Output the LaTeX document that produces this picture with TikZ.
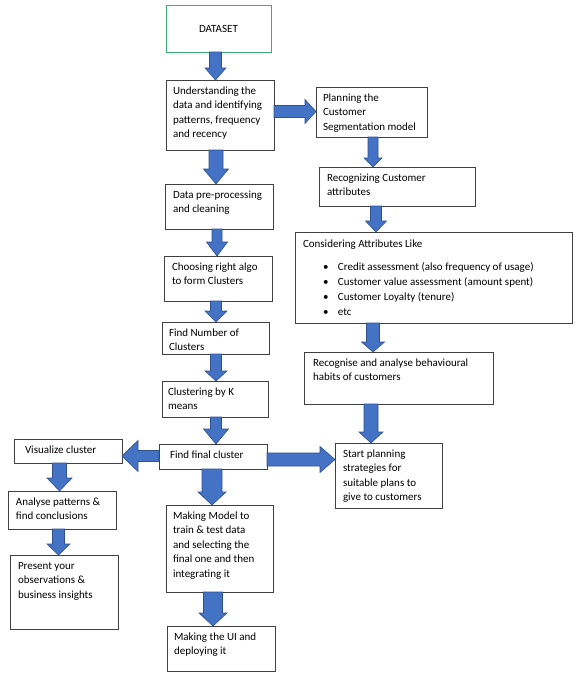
\documentclass[tikz,border=0pt]{standalone}
\usepackage{fontspec}
\setmainfont{Carlito}
\usetikzlibrary{calc}
\definecolor{arrowblue}{HTML}{4472C4}
\definecolor{arrowedge}{HTML}{2F528F}
\definecolor{boxgreen}{HTML}{3DAF73}
\definecolor{boxedge}{HTML}{404040}
\tikzset{
  box/.style={draw=boxedge, line width=0.8pt, fill=white, anchor=north west, inner sep=0pt, outer sep=0pt},
  greenbox/.style={box, draw=boxgreen, line width=1pt},
  blk/.style={fill=arrowblue, draw=arrowedge, line width=0.6pt, line join=miter}
}
% text inside a box: width, height, left pad, text
\newcommand{\boxtxt}[4]{\begin{minipage}[c][#2pt][t]{#1pt}\raggedright\leftskip=#3pt\relax\baselineskip=14.6pt\fontsize{11pt}{14.6pt}\selectfont\rule{0pt}{14pt}#4\end{minipage}}
% down arrow: x, from, to, shaft half, head half, head length
\newcommand{\darr}[6]{\draw[blk] let \p1=(#2.south), \p2=(#3.north) in
  (#1pt-#4pt,\y1) -- (#1pt+#4pt,\y1) -- (#1pt+#4pt,\y2+#6pt) -- (#1pt+#5pt,\y2+#6pt)
  -- (#1pt,\y2) -- (#1pt-#5pt,\y2+#6pt) -- (#1pt-#4pt,\y2+#6pt) -- cycle;}
% right arrow: y, from, to, shaft half, head half, head length
\newcommand{\rarr}[6]{\draw[blk] let \p1=(#2.east), \p2=(#3.west) in
  (\x1,-#1pt+#4pt) -- (\x2-#6pt,-#1pt+#4pt) -- (\x2-#6pt,-#1pt+#5pt) -- (\x2,-#1pt)
  -- (\x2-#6pt,-#1pt-#5pt) -- (\x2-#6pt,-#1pt-#4pt) -- (\x1,-#1pt-#4pt) -- cycle;}
% left arrow
\newcommand{\larr}[6]{\draw[blk] let \p1=(#2.west), \p2=(#3.east) in
  (\x1,-#1pt+#4pt) -- (\x2+#6pt,-#1pt+#4pt) -- (\x2+#6pt,-#1pt+#5pt) -- (\x2,-#1pt)
  -- (\x2+#6pt,-#1pt-#5pt) -- (\x2+#6pt,-#1pt-#4pt) -- (\x1,-#1pt-#4pt) -- cycle;}
\begin{document}
\begin{tikzpicture}[x=1pt,y=-1pt]
\useasboundingbox[fill=white] (0,0) rectangle (586,689);

\node[greenbox] (dataset) at (166,5) {\begin{minipage}[c][47pt][c]{105pt}\centering\fontsize{11pt}{14.6pt}\selectfont DATASET\end{minipage}};
\node[box] (underst) at (166,80) {\boxtxt{108}{70}{7}{Understanding the\\ data and identifying\\ patterns, frequency\\ and recency}};
\node[box] (planning) at (316,87) {\boxtxt{111}{50}{7}{Planning the\\ Customer\\ Segmentation model}};
\node[box] (data) at (165,184) {\boxtxt{108}{45}{8}{Data pre-processing\\ and cleaning}};
\node[box] (choosing) at (164,256) {\boxtxt{108}{45}{8}{Choosing right algo\\ to form Clusters}};
\node[box] (findnum) at (162,322) {\boxtxt{107}{32}{7}{Find Number of\\ Clusters}};
\node[box] (kmeans) at (162,381) {\boxtxt{106}{36}{6}{Clustering by K\\ means}};
\node[box] (findfinal) at (159,444) {\boxtxt{108}{25}{11}{Find final cluster}};
\node[box] (recog) at (319,167) {\boxtxt{156}{39}{8}{Recognizing Customer\\ attributes}};
\node[box] (consider) at (295,232) {\begin{minipage}[c][91pt][t]{277pt}\raggedright\fontsize{11pt}{15pt}\selectfont
  \leftskip=8pt\rule{0pt}{15pt}Considering Attributes Like\par\vspace{8pt}
  \leftskip=28pt
  \makebox[15pt][l]{\textbullet}Credit assessment (also frequency of usage)\\
  \makebox[15pt][l]{\textbullet}Customer value assessment (amount spent)\\
  \makebox[15pt][l]{\textbullet}Customer Loyalty (tenure)\\
  \makebox[15pt][l]{\textbullet}etc\end{minipage}};
\node[box] (habits) at (304,352) {\boxtxt{189}{52}{9}{Recognise and analyse behavioural\\ habits of customers}};
\node[box] (startplan) at (335,443) {\boxtxt{107}{65}{8}{Start planning\\ strategies for\\ suitable plans to\\ give to customers}};
\node[box] (visual) at (14,439) {\boxtxt{108}{24}{11}{Visualize cluster}};
\node[box] (analyse) at (8,491) {\boxtxt{108}{38}{8}{Analyse patterns \&\\ find conclusions}};
\node[box] (present) at (10,555) {\boxtxt{108}{74}{8}{Present your\\ observations \&\\ business insights}};
\node[box] (model) at (166,505) {\boxtxt{107}{87}{7}{Making Model to\\ train \& test data\\ and selecting the\\ final one and then\\ integrating it}};
\node[box] (ui) at (167,626) {\boxtxt{108}{45}{7}{Making the UI and\\ deploying it}};

\darr{215.5}{dataset}{underst}{6}{10.5}{12}
\rarr{111.5}{underst}{planning}{6}{12}{11}
\darr{373}{planning}{recog}{5}{9}{9}
\darr{376}{recog}{consider}{5.5}{10.5}{11}
\darr{373}{consider}{habits}{6.5}{11.5}{10}
\darr{371}{habits}{startplan}{7}{12}{11}
\darr{216}{underst}{data}{7}{12.5}{15}
\darr{217}{data}{choosing}{5}{10.5}{14}
\darr{216}{choosing}{findnum}{5.5}{11}{11}
\darr{216}{findnum}{kmeans}{5.5}{11}{10}
\darr{216}{kmeans}{findfinal}{5.5}{12.5}{15}
\rarr{459.5}{findfinal}{startplan}{6.5}{13}{15}
\larr{456}{findfinal}{visual}{5.5}{15.5}{16}
\darr{212}{findfinal}{model}{10}{14}{13}
\darr{59.5}{visual}{analyse}{7}{12.5}{13}
\darr{58.5}{analyse}{present}{6}{11.5}{11}
\darr{213}{model}{ui}{9.5}{14}{13}
\end{tikzpicture}
\end{document}
